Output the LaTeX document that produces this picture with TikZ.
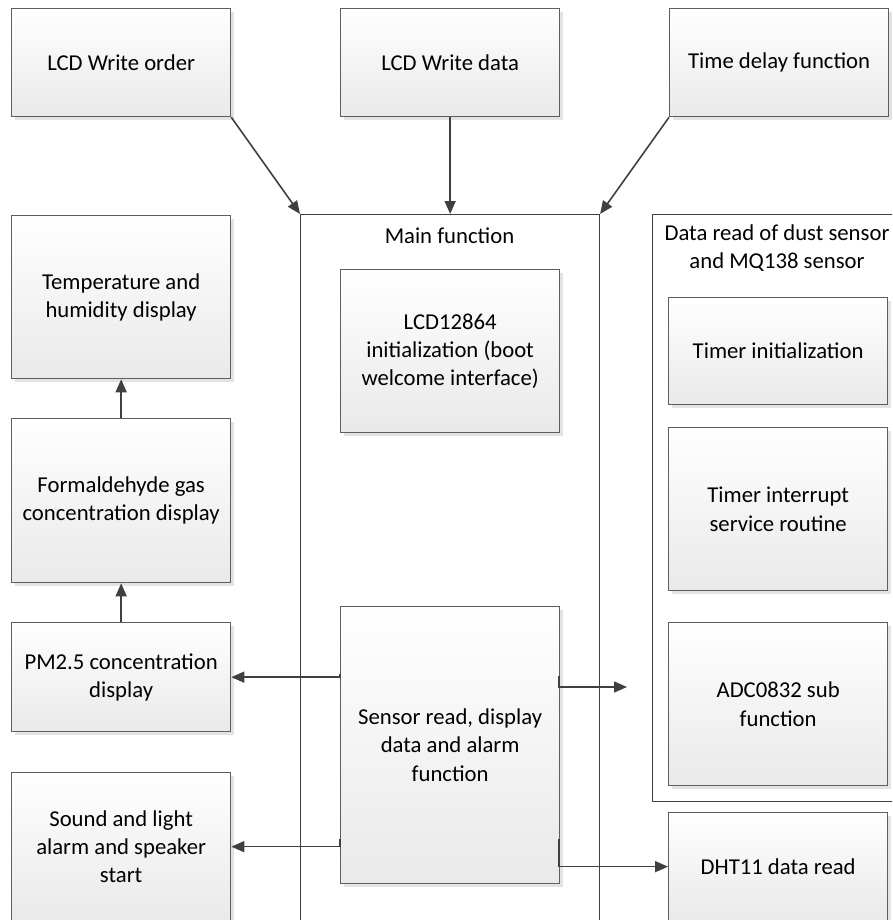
\documentclass[tikz,border=0pt]{standalone}
\usepackage{fontspec}
\setmainfont{Carlito}
\usetikzlibrary{arrows.meta,shadows,calc}
\definecolor{boxline}{HTML}{5E5E5E}
\definecolor{boxbot}{HTML}{E9E9E9}
\definecolor{shadowc}{HTML}{E3E3E3}
\definecolor{linec}{HTML}{404040}
\tikzset{
  box/.style={draw=boxline, line width=1.3pt, top color=white, bottom color=boxbot,
    drop shadow={shadow xshift=3.5pt, shadow yshift=-3.5pt, fill=shadowc, opacity=1},
    align=center, inner sep=0pt, font=\fontsize{22.7}{28.3}\selectfont, text=black},
  framebox/.style={draw=linec, line width=1.1pt, fill=none},
  lbl/.style={align=center, inner sep=0pt, font=\fontsize{22.7}{28.3}\selectfont, text=black},
  arr/.style={draw=linec, line width=1.6pt, -{Triangle[length=13pt,width=11pt]}},
}
\begin{document}
\begin{tikzpicture}[x=1pt,y=-1pt]
\useasboundingbox (0,0) rectangle (892,920);
\clip (0,0) rectangle (892,920);
% frames
\node[framebox, minimum width=299pt, minimum height=800pt, anchor=north west] (main) at (300,214) {};
\node[framebox, minimum width=260pt, minimum height=587pt, anchor=north west] (dfr) at (652,214) {};
\node[lbl] (mainlbl) at (449.5,236) {Main function};
\node[lbl] (dfrlbl) at (777,248) {Data read of dust sensor\\and MQ138 sensor};
% top boxes
\node[box, minimum width=219pt, minimum height=108pt, anchor=north west] (wo) at (11,8) {LCD Write order};
\node[box, minimum width=219pt, minimum height=108pt, anchor=north west] (wd) at (340,8) {LCD Write data};
\node[box, minimum width=219pt, minimum height=108pt, anchor=north west] (td) at (669,8) {Time delay function};
% left column
\node[box, minimum width=219pt, minimum height=163pt, anchor=north west] (temp) at (11,215) {Temperature and\\humidity display};
\node[box, minimum width=219pt, minimum height=164pt, anchor=north west] (form) at (11,418) {Formaldehyde gas\\concentration display};
\node[box, minimum width=219pt, minimum height=109pt, anchor=north west] (pm) at (11,622) {PM2.5 concentration\\display};
\node[box, minimum width=219pt, minimum height=148pt, anchor=north west] (snd) at (11,772) {Sound and light\\alarm and speaker\\start};
% main column
\node[box, minimum width=219pt, minimum height=163pt, anchor=north west] (lcd) at (340,269) {LCD12864\\initialization (boot\\welcome interface)};
\node[box, minimum width=219pt, minimum height=277pt, anchor=north west] (sens) at (340,606) {Sensor read, display\\data and alarm\\function};
% right column
\node[box, minimum width=219pt, minimum height=107pt, anchor=north west] (tinit) at (668,297) {Timer initialization};
\node[box, minimum width=219pt, minimum height=163pt, anchor=north west] (tisr) at (668,427) {Timer interrupt\\service routine};
\node[box, minimum width=219pt, minimum height=163pt, anchor=north west] (adc) at (668,622) {ADC0832 sub\\function};
\node[box, minimum width=219pt, minimum height=108pt, anchor=north west] (dht) at (668,812) {DHT11 data read};
% connectors
\draw[arr] (wo.south east) -- (main.north west);
\draw[arr] (wd.south) -- (main.north -| wd.south);
\draw[arr] (td.south west) -- (main.north east);
\draw[arr] (form.north) -- (temp.south);
\draw[arr] (pm.north) -- (form.south);
\coordinate (l1) at (340,674);
\coordinate (l2) at (340,839);
\coordinate (r1) at (559,676);
\coordinate (r2) at (559,839);
\coordinate (fe) at (627,687);
\draw[arr] (l1) |- (pm.east);
\draw[arr] (l2) |- (snd.east);
\draw[arr] (r1) |- (fe);
\draw[arr] (r2) |- (dht.west);
\end{tikzpicture}
\end{document}
